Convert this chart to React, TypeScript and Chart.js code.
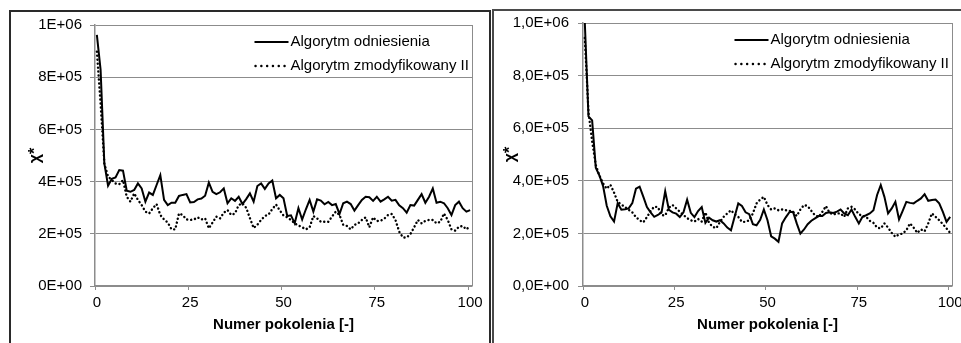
import React, { useEffect, useRef } from "react";
import { Chart, registerables } from "chart.js";

Chart.register(...registerables);

const FONT = '"Liberation Sans", Arial, Helvetica, sans-serif';

// ---- categories / labels ----
const generations: string[] = Array.from({ length: 101 }, (_, i) => String(i));
const xTickStep = 25;
const seriesNames = ["Algorytm odniesienia", "Algorytm zmodyfikowany II"];
const yTitleText = "χ*";
const xTitleText = "Numer pokolenia [-]";
const yTickLabelsLeft = ["0E+00", "2E+05", "4E+05", "6E+05", "8E+05", "1E+06"];
const yTickLabelsRight = ["0,0E+00", "2,0E+05", "4,0E+05", "6,0E+05", "8,0E+05", "1,0E+06"];

// ---- left chart series ----
const leftReference = [
  962000, 828000, 470000, 384000, 411000, 416000, 444000, 442000, 365000, 361000,
  368000, 393000, 374000, 323000, 358000, 349000, 387000, 425000, 330000, 310000,
  319000, 319000, 345000, 349000, 352000, 320000, 322000, 332000, 335000, 346000,
  396000, 361000, 352000, 359000, 374000, 317000, 336000, 326000, 342000, 314000,
  333000, 355000, 323000, 383000, 393000, 372000, 393000, 404000, 336000, 349000,
  336000, 268000, 271000, 240000, 298000, 255000, 294000, 330000, 285000, 332000,
  327000, 313000, 322000, 310000, 314000, 276000, 317000, 323000, 314000, 289000,
  310000, 330000, 342000, 340000, 326000, 342000, 323000, 332000, 342000, 327000,
  330000, 309000, 298000, 281000, 310000, 308000, 330000, 352000, 319000, 342000,
  374000, 319000, 323000, 317000, 298000, 272000, 310000, 323000, 298000, 285000,
  291000,
];
const leftModified = [
  898000, 700000, 469000, 419000, 406000, 393000, 390000, 406000, 342000, 323000,
  355000, 330000, 310000, 285000, 278000, 298000, 314000, 272000, 255000, 243000,
  217000, 217000, 278000, 272000, 255000, 253000, 255000, 263000, 255000, 259000,
  221000, 243000, 266000, 259000, 281000, 291000, 272000, 278000, 310000, 317000,
  300000, 260000, 222000, 235000, 253000, 268000, 274000, 295000, 312000, 290000,
  270000, 263000, 253000, 240000, 232000, 225000, 217000, 225000, 268000, 259000,
  246000, 246000, 246000, 266000, 285000, 272000, 234000, 230000, 217000, 234000,
  240000, 253000, 263000, 225000, 263000, 249000, 250000, 258000, 272000, 276000,
  253000, 208000, 186000, 186000, 199000, 225000, 253000, 240000, 250000, 253000,
  253000, 240000, 246000, 278000, 253000, 217000, 212000, 227000, 230000, 217000,
  230000,
];

// ---- right chart series ----
const rightReference = [
  1000000, 645000, 630000, 450000, 420000, 380000, 305000, 265000, 245000, 315000,
  290000, 292000, 295000, 315000, 370000, 378000, 340000, 300000, 280000, 263000,
  270000, 280000, 360000, 290000, 280000, 275000, 262000, 280000, 328000, 278000,
  262000, 285000, 300000, 240000, 260000, 250000, 245000, 250000, 238000, 222000,
  212000, 263000, 314000, 304000, 280000, 273000, 235000, 231000, 252000, 291000,
  250000, 189000, 180000, 168000, 238000, 261000, 281000, 282000, 238000, 199000,
  215000, 235000, 248000, 257000, 266000, 266000, 278000, 280000, 278000, 283000,
  291000, 276000, 269000, 291000, 263000, 238000, 263000, 269000, 276000, 288000,
  346000, 384000, 339000, 276000, 295000, 320000, 253000, 286000, 320000, 316000,
  314000, 324000, 333000, 349000, 324000, 327000, 329000, 314000, 282000, 244000,
  263000,
];
const rightModified = [
  943000, 660000, 550000, 460000, 420000, 390000, 370000, 385000, 355000, 320000,
  310000, 300000, 290000, 280000, 262000, 250000, 242000, 262000, 285000, 302000,
  300000, 270000, 268000, 298000, 308000, 295000, 282000, 270000, 258000, 250000,
  245000, 255000, 245000, 280000, 240000, 225000, 220000, 244000, 263000, 276000,
  288000, 273000, 263000, 244000, 244000, 250000, 276000, 314000, 329000, 339000,
  308000, 291000, 295000, 288000, 291000, 288000, 286000, 282000, 266000, 291000,
  308000, 304000, 286000, 269000, 263000, 282000, 304000, 278000, 272000, 276000,
  276000, 263000, 295000, 301000, 291000, 273000, 266000, 263000, 248000, 240000,
  222000, 219000, 238000, 222000, 202000, 187000, 197000, 199000, 212000, 238000,
  222000, 202000, 215000, 208000, 238000, 276000, 263000, 250000, 235000, 219000,
  202000,
];

type Area = { left: number; top: number; right: number; bottom: number };

type PanelProps = {
  x: number;
  y: number;
  width: number;
  height: number;
  area: Area;
  reference: number[];
  modified: number[];
  yLabels: string[];
  yTickPadding: number;
  yTitlePadding: number;
};

const GRID = "#8c8c8c";
const DOT_DASH = [0.1, 3.9];
const LEGEND_DOT_DASH = [0.1, 5.7];

function Panel(p: PanelProps) {
  const ref = useRef<HTMLCanvasElement | null>(null);

  useEffect(() => {
    const canvas = ref.current;
    if (!canvas) return;

    const framePlugin = {
      id: "excelFrame",
      afterDatasetsDraw(chart: any) {
        const { ctx, chartArea } = chart;
        ctx.save();
        // right edge of plot area
        const rx = Math.round(chartArea.right - 0.5) + 0.5;
        ctx.strokeStyle = GRID;
        ctx.lineWidth = 1;
        ctx.setLineDash([]);
        ctx.beginPath();
        ctx.moveTo(rx, chartArea.top);
        ctx.lineTo(rx, chartArea.bottom);
        ctx.stroke();

        // legend
        const x0 = chartArea.right - 217.5;
        chart.data.datasets.forEach((ds: any, i: number) => {
          const yy = Math.round(chartArea.top + 16.5 + i * 24.5);
          ctx.beginPath();
          if (ds.borderDash && ds.borderDash.length) {
            ctx.setLineDash(LEGEND_DOT_DASH);
            ctx.lineCap = "round";
            ctx.lineWidth = 2.4;
            ctx.moveTo(x0 + 1, yy);
          } else {
            ctx.setLineDash([]);
            ctx.lineCap = "butt";
            ctx.lineWidth = 2;
            ctx.moveTo(x0, yy);
          }
          ctx.strokeStyle = "#000";
          ctx.lineTo(x0 + 34, yy);
          ctx.stroke();
          ctx.setLineDash([]);
          ctx.fillStyle = "#000";
          ctx.font = `15px ${FONT}`;
          ctx.textBaseline = "middle";
          ctx.textAlign = "left";
          ctx.fillText(ds.label, x0 + 36, yy);
        });
        ctx.restore();
      },
    };

    const chart = new Chart(canvas, {
      type: "line",
      data: {
        labels: generations,
        datasets: [
          {
            label: seriesNames[0],
            data: p.reference,
            borderColor: "#000",
            backgroundColor: "#000",
            borderWidth: 2,
            pointRadius: 0,
            tension: 0,
            fill: false,
          },
          {
            label: seriesNames[1],
            data: p.modified,
            borderColor: "#000",
            backgroundColor: "#000",
            borderWidth: 2.4,
            borderDash: DOT_DASH,
            borderCapStyle: "round",
            pointRadius: 0,
            tension: 0,
            fill: false,
          },
        ],
      },
      options: {
        responsive: false,
        maintainAspectRatio: false,
        animation: false,
        events: [],
        layout: {
          padding: { left: 0, top: p.area.top, right: p.width - p.area.right, bottom: 0 },
        },
        plugins: {
          legend: { display: false },
          tooltip: { enabled: false },
          title: { display: false },
        },
        scales: {
          x: {
            type: "category",
            offset: true,
            afterFit: (s: any) => {
              s.height = p.height - p.area.bottom;
              s.paddingLeft = 0;
              s.paddingRight = 0;
            },
            grid: {
              display: true,
              offset: true,
              drawOnChartArea: false,
              drawTicks: true,
              tickLength: 4,
              color: (ctx: any) => (ctx.index % xTickStep === 0 && ctx.index <= 100 ? GRID : "rgba(0,0,0,0)"),
              lineWidth: 1,
            },
            border: { display: true, color: GRID, width: 1.5 },
            ticks: {
              autoSkip: false,
              maxRotation: 0,
              minRotation: 0,
              padding: 3.5,
              color: "#000",
              font: { family: FONT, size: 15 },
              callback: (_v: any, i: number) => (i % xTickStep === 0 ? generations[i] : ""),
            },
            title: {
              display: true,
              text: xTitleText,
              color: "#000",
              font: { family: FONT, size: 15, weight: "bold" },
              padding: { top: 0, bottom: 9 },
            },
          },
          y: {
            min: 0,
            max: 1000000,
            afterFit: (s: any) => {
              s.width = p.area.left;
              s.paddingTop = 0;
              s.paddingBottom = 0;
            },
            ticks: {
              stepSize: 200000,
              padding: p.yTickPadding,
              color: "#000",
              font: { family: FONT, size: 15 },
              callback: (v: any) => p.yLabels[Math.round(Number(v) / 200000)],
            },
            grid: {
              color: GRID,
              lineWidth: 1,
              drawTicks: true,
              tickLength: 5,
            },
            border: { display: true, color: GRID, width: 1.5 },
            title: {
              display: true,
              text: yTitleText,
              color: "#000",
              font: { family: FONT, size: 16, weight: "bold" },
              padding: { top: p.yTitlePadding, bottom: 0 },
            },
          },
        },
      },
      plugins: [framePlugin],
    });

    return () => chart.destroy();
  }, []);

  return (
    <canvas
      ref={ref}
      width={p.width}
      height={p.height}
      style={{ position: "absolute", left: p.x, top: p.y, width: p.width, height: p.height }}
    />
  );
}

export default function App() {
  return (
    <div
      style={{
        position: "fixed",
        left: 0,
        top: 0,
        width: 961,
        height: 343,
        overflow: "hidden",
        background: "#fff",
      }}
    >
      <div
        style={{
          position: "absolute",
          left: 9,
          top: 10,
          width: 478,
          height: 400,
          border: "2px solid #2a2a2a",
        }}
      />
      <div
        style={{
          position: "absolute",
          left: 492,
          top: 9,
          width: 500,
          height: 400,
          border: "2px solid #4a4a4a",
        }}
      />
      <Panel
        x={11}
        y={11}
        width={479}
        height={332}
        area={{ left: 84, top: 14, right: 461, bottom: 275 }}
        reference={leftReference}
        modified={leftModified}
        yLabels={yTickLabelsLeft}
        yTickPadding={8}
        yTitlePadding={15.4}
      />
      <Panel
        x={494}
        y={11}
        width={467}
        height={332}
        area={{ left: 89, top: 12, right: 458, bottom: 275 }}
        reference={rightReference}
        modified={rightModified}
        yLabels={yTickLabelsRight}
        yTickPadding={9}
        yTitlePadding={7}
      />
    </div>
  );
}
